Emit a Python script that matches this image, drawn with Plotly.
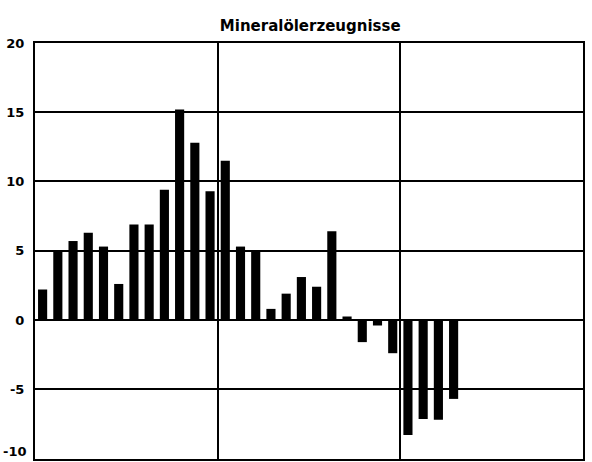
import plotly.graph_objects as go

title_text = "Mineralölerzeugnisse"
slots = list(range(1, 37))
values = [2.2, 5.0, 5.7, 6.3, 5.3, 2.6, 6.9, 6.9, 9.4, 15.2, 12.8, 9.3,
          11.5, 5.3, 5.0, 0.8, 1.9, 3.1, 2.4, 6.4, 0.25, -1.6, -0.4, -2.4,
          -8.3, -7.15, -7.2, -5.7]
y_ticks = [-10, -5, 0, 5, 10, 15, 20]
section_bounds = [12.5, 24.5]

tick_font = dict(family="DejaVu Sans", size=13, color="black", weight="bold")

fig = go.Figure(go.Bar(
    x=slots[:len(values)], y=values,
    marker=dict(color="black", line=dict(width=0)),
))

# bottom tick label is drawn as an annotation so it is not dropped at the edge
fig.add_annotation(text=str(y_ticks[0]), xref="paper", x=0, xanchor="right", xshift=-7,
                   yref="y", y=y_ticks[0], yanchor="bottom", yshift=-2, showarrow=False,
                   borderpad=0, font=tick_font)

fig.update_layout(
    width=592, height=462,
    margin=dict(l=35, r=9, t=43, b=3),
    paper_bgcolor="white", plot_bgcolor="white",
    bargap=0.4,
    showlegend=False,
    title=dict(text=title_text, x=0.524, xanchor="center", y=0.944, yanchor="middle",
               font=dict(family="DejaVu Sans", size=15, color="black", weight="bold")),
    xaxis=dict(range=[0.5, 36.5], tickvals=section_bounds, showticklabels=False,
               ticks="", showgrid=True, gridcolor="black", gridwidth=2,
               showline=True, linecolor="black", linewidth=2, mirror=True,
               zeroline=False, automargin=False),
    yaxis=dict(range=[-10.04, 20], tickvals=y_ticks,
               ticktext=[""] + [str(v) for v in y_ticks[1:]],
               showgrid=True, gridcolor="black", gridwidth=2,
               zeroline=True, zerolinecolor="black", zerolinewidth=2,
               showline=True, linecolor="black", linewidth=2, mirror=True,
               ticks="", ticklabelstandoff=6,
               tickfont=tick_font,
               automargin=False),
)

fig.write_html("out.html", config={"displayModeBar": False},
               post_script="document.body.style.margin='0';document.body.style.overflow='hidden';")
